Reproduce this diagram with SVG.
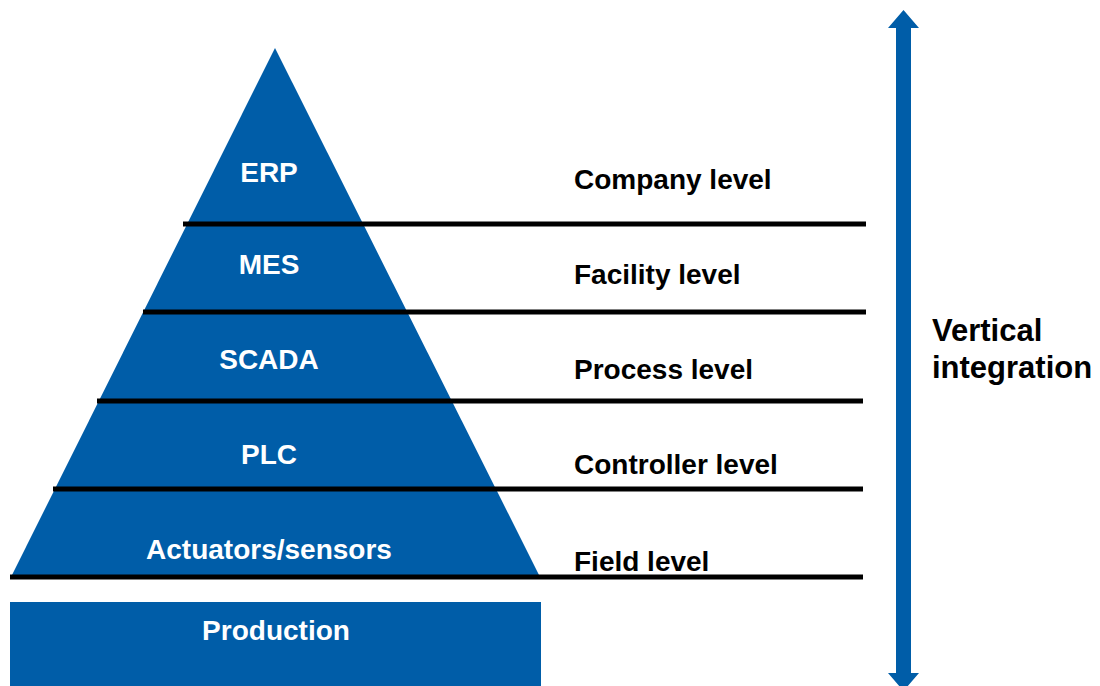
<svg xmlns="http://www.w3.org/2000/svg" width="1100" height="686" viewBox="0 0 1100 686">
  <style>
    .blue { fill: #005DA8; }
    .lbl { font-family: "Liberation Sans", Arial, sans-serif; font-weight: bold; font-size: 28px; fill: #FFFFFF; text-anchor: middle; }
    .lvl { font-family: "Liberation Sans", Arial, sans-serif; font-weight: bold; font-size: 28px; fill: #000000; }
    .vi { font-family: "Liberation Sans", Arial, sans-serif; font-weight: bold; font-size: 31px; fill: #000000; }
    .sep { stroke: #000000; stroke-width: 5; fill: none; }
  </style>
  <rect width="1100" height="686" fill="#FFFFFF"/>

  <g id="pyramid">
    <polygon class="blue" points="275,48 540,577 11,577"/>
  </g>

  <g id="production">
    <rect class="blue" x="10" y="602" width="531" height="90"/>
    <text class="lbl" x="276" y="640">Production</text>
  </g>

  <g id="erp"><text class="lbl" x="269" y="182">ERP</text></g>
  <g id="mes"><text class="lbl" x="269" y="274">MES</text></g>
  <g id="scada"><text class="lbl" x="269" y="369">SCADA</text></g>
  <g id="plc"><text class="lbl" x="269" y="464">PLC</text></g>
  <g id="actuators"><text class="lbl" x="269" y="559">Actuators/sensors</text></g>

  <g id="company-level"><text class="lvl" x="574" y="189">Company level</text></g>
  <g id="facility-level"><text class="lvl" x="574" y="284">Facility level</text></g>
  <g id="process-level"><text class="lvl" x="574" y="379">Process level</text></g>
  <g id="controller-level"><text class="lvl" x="574" y="474">Controller level</text></g>
  <g id="field-level"><text class="lvl" x="574" y="571">Field level</text></g>

  <g id="connectors">
    <line class="sep" x1="183" y1="224" x2="866" y2="224"/>
    <line class="sep" x1="143" y1="312" x2="866" y2="312"/>
    <line class="sep" x1="97" y1="401" x2="863" y2="401"/>
    <line class="sep" x1="53" y1="489" x2="863" y2="489"/>
    <line class="sep" x1="10" y1="577" x2="863" y2="577"/>
    <polygon id="vertical-arrow" class="blue" points="903.5,10 919,28 911,28 911,673 919,673 903.5,691 888,673 896,673 896,28 888,28"/>
  </g>

  <g id="vertical-integration">
    <text class="vi" x="932" y="341">Vertical</text>
    <text class="vi" x="932" y="378">integration</text>
  </g>
</svg>
